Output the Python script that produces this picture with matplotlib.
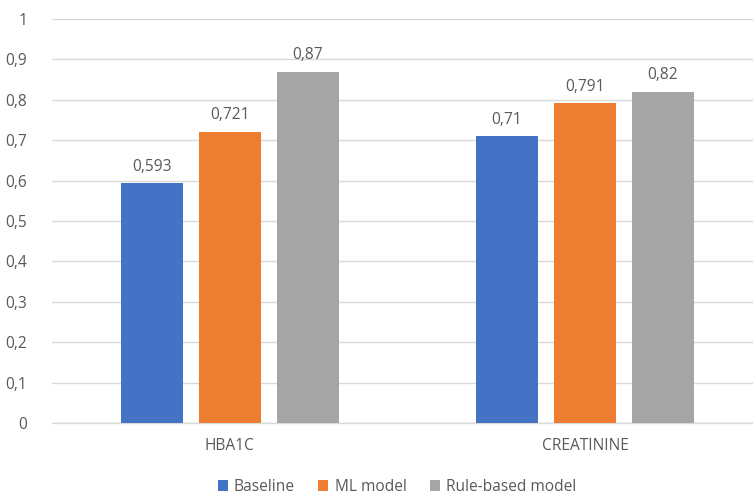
import matplotlib
matplotlib.use("Agg")
import matplotlib.pyplot as plt
import numpy as np

categories = ["HBA1C", "CREATININE"]
series_names = ["Baseline", "ML model", "Rule-based model"]
baseline = [0.593, 0.71]
ml_model = [0.721, 0.791]
rule_based = [0.87, 0.82]
y_ticks = [0, 0.1, 0.2, 0.3, 0.4, 0.5, 0.6, 0.7, 0.8, 0.9, 1]

colors = ["#4472C4", "#ED7D31", "#A5A5A5"]
text_color = "#595959"
grid_color = "#D9D9D9"
fs = 11.2

plt.rcParams["font.family"] = ["Open Sans", "DejaVu Sans"]

fig = plt.figure(figsize=(7.53, 4.95), dpi=100)
ax = fig.add_axes([52 / 753, 1 - 423 / 495, 1 - 52 / 753, (423 - 19) / 495])

def fmt(v):
    s = ("%g" % v)
    return s.replace(".", ",")

x = np.arange(len(categories))
width = 0.1746
step = 0.2197
all_series = [baseline, ml_model, rule_based]
for i, (name, vals) in enumerate(zip(series_names, all_series)):
    pos = x + (i - 1) * step
    bars = ax.bar(pos, vals, width=width, color=colors[i], label=name, zorder=3)
    for b, v in zip(bars, vals):
        ax.annotate(fmt(v), (b.get_x() + b.get_width() / 2, v),
                    xytext=(0, 6), textcoords="offset points",
                    ha="center", va="bottom", fontsize=fs, color=text_color)

ax.set_xlim(-0.501, 1.473)
ax.set_ylim(0, 1)
ax.set_yticks(y_ticks)
ax.set_yticklabels([fmt(t) for t in y_ticks], fontsize=fs, color=text_color)
ax.set_xticks(x)
ax.set_xticklabels(categories, fontsize=fs, color=text_color)
ax.tick_params(axis="both", length=0)
ax.tick_params(axis="y", pad=18)
ax.tick_params(axis="x", pad=11)
ax.grid(axis="y", color=grid_color, linewidth=1, zorder=0)
for s in ["top", "right", "left"]:
    ax.spines[s].set_visible(False)
ax.spines["bottom"].set_color(grid_color)
ax.spines["bottom"].set_linewidth(1)

handles, labels = ax.get_legend_handles_labels()
leg = fig.legend(handles, labels, loc="center", bbox_to_anchor=(397 / 753, 1 - 487 / 495),
                 ncol=3, frameon=False, fontsize=fs, handlelength=0.65, handleheight=0.65,
                 handletextpad=0.4, columnspacing=1.5)
for t in leg.get_texts():
    t.set_color(text_color)

fig.savefig("out.png", dpi=100)
